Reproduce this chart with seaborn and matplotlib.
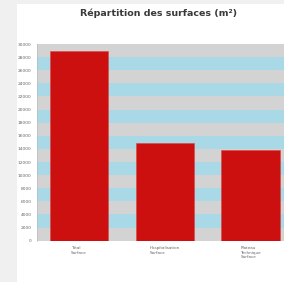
import numpy as np
import pandas as pd
import seaborn as sns
import matplotlib.pyplot as plt
from matplotlib.patches import Rectangle

# data
categories = ["Total\nSurface", "Hospitalisation\nSurface", "Plateau\nTechnique\nSurface"]
surfaces = [29000, 14900, 13850]
title = "Répartition des surfaces (m²)"
yticks = list(range(0, 30001, 2000))

df = pd.DataFrame({"categorie": categories, "surface": surfaces})

sns.set_style("white")
plt.rcParams["font.family"] = ["DejaVu Sans"]

fig = plt.figure(figsize=(2.84, 2.82), dpi=100)
fig.patch.set_facecolor("#f0f0f0")
# white panel, drawn behind the axes
fig.patches.append(Rectangle((17 / 284, 0), 1, 1 - 4 / 282, transform=fig.transFigure,
                             facecolor="white", edgecolor="none", zorder=-5))

ax = fig.add_axes([37 / 284, 1 - 240.7 / 282, 256.5 / 284, (240.7 - 44) / 282])

# alternating grey / light blue bands, one per tick interval
for i in range(len(yticks) - 1):
    ax.axhspan(yticks[i], yticks[i + 1],
               color="#d3d3d3" if i % 2 == 0 else "#a9d8e6", lw=0, zorder=0)

sns.barplot(data=df, x="categorie", y="surface", color="#cc1010", saturation=1,
            width=0.68, edgecolor="#dd4444", linewidth=0.4, ax=ax, zorder=2)

ax.set_xlim(-0.49, 2.5)
ax.set_ylim(0, 30000)
ax.set_yticks(yticks)
ax.set_yticklabels([str(t) for t in yticks], fontsize=3.2, color="#666666")
ax.set_xticks(range(len(categories)))
ax.set_xticklabels(categories, fontsize=3.0, color="#666666", multialignment="left")
ax.tick_params(axis="y", length=2, width=0.4, color="#888888", pad=2)
ax.tick_params(axis="x", length=0, pad=4)
ax.set_xlabel("")
ax.set_ylabel("")
for side in ["top", "right", "bottom"]:
    ax.spines[side].set_visible(False)
ax.spines["left"].set_color("#bbbbbb")
ax.spines["left"].set_linewidth(0.5)

fig.text(159 / 284, 1 - 13.5 / 282, title, ha="center", va="center",
         fontsize=6.8, fontweight="bold", color="#3a3a3a")

fig.savefig("out.png", dpi=100)
